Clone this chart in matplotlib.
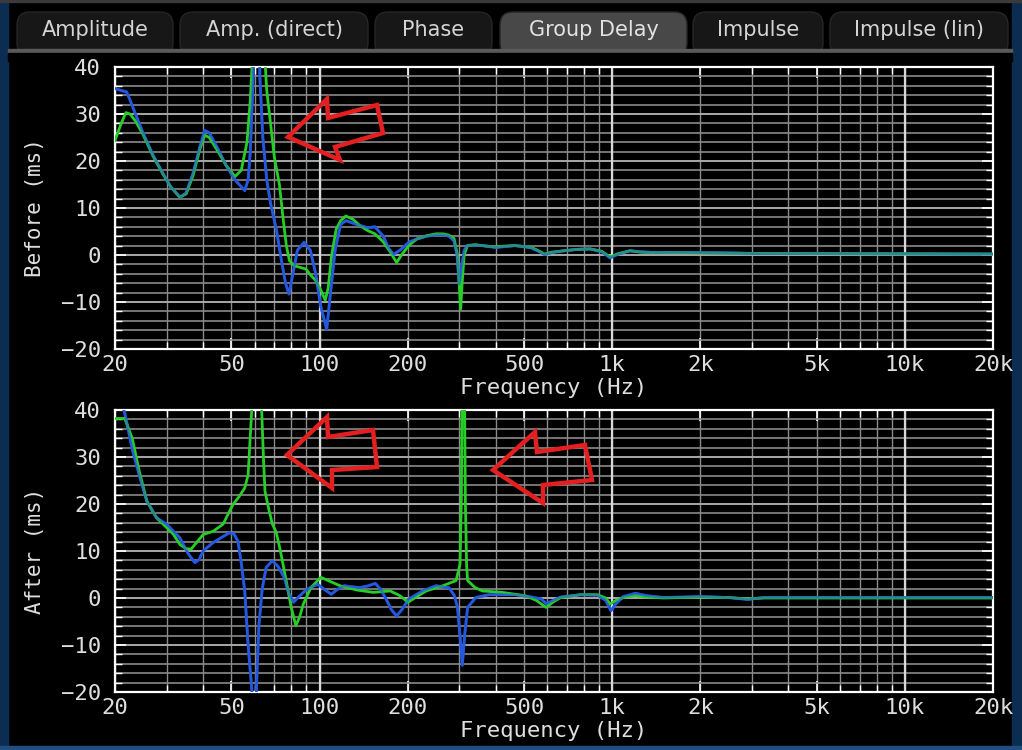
import numpy as np
import matplotlib
matplotlib.use('Agg')
import matplotlib.pyplot as plt
from matplotlib.patches import FancyBboxPatch, Polygon, Rectangle
from matplotlib.ticker import FixedLocator, LogLocator, MultipleLocator, NullFormatter

MONO = 'DejaVu Sans Mono'

# ---- data (frequency in Hz, group delay in ms) ----
before_green_f = [20, 21, 21.8, 22.5, 23.5, 25, 27, 29, 31, 33.3, 35, 37, 39, 40.5, 42, 45, 48,
                  51.4, 54, 56.5, 58, 59.3, 61, 64, 65, 66, 68, 70, 72.9, 75, 77, 78.9, 82, 85.4,
                  89.9, 93, 97.2, 101, 104.6, 107, 110, 114, 118, 123, 130, 137, 146, 154.6, 165,
                  175, 183.4, 192, 203, 215, 232, 250, 265, 277, 288, 296, 300, 303.6, 307, 312,
                  320, 340, 360, 400, 430, 465, 500, 530, 560, 587, 620, 684, 760, 840, 920, 983,
                  1050, 1150, 1250, 1400, 1700, 2000, 3000, 5000, 10000, 20000]
before_green_gd = [24.4, 28, 30.3, 30, 28.5, 25.5, 21, 17.5, 14.5, 12.3, 13, 17, 22.5, 25.5, 25,
                   22, 19, 16.7, 18, 24, 33, 45, 200, 200, 42, 35, 28, 21, 15, 8, 2, -1.2, -2.3,
                   -2.6, -3, -4.2, -5.5, -7.5, -9.6, -7, 0, 5.5, 7.3, 8.3, 7.6, 6.3, 5.2, 4.5, 2.8,
                   0.5, -1.6, 0.3, 2.2, 3.4, 4.1, 4.5, 4.5, 4.2, 3.5, 0, -6, -11.5, -6, 0, 2.0,
                   2.2, 2.0, 1.7, 1.9, 2.0, 1.8, 1.6, 0.9, 0.2, 0.6, 0.9, 1.2, 1.3, 0.8, -0.4,
                   0.3, 0.9, 0.6, 0.5, 0.5, 0.45, 0.35, 0.3, 0.25, 0.2]

before_blue_f = [20, 21, 21.9, 22.5, 23.5, 25, 27, 29, 31, 33.3, 35, 37, 39, 40.5, 42, 45, 48,
                 51.4, 55.5, 57, 58, 59.3, 60, 62, 62.5, 64, 66, 68, 71.3, 74, 76.5, 78.6, 80.5,
                 84, 88.5, 93, 97, 101, 105.8, 109, 113, 118, 123, 130, 137, 146, 154.6, 165,
                 172, 178.9, 188, 203, 215, 232, 250, 265, 277, 288, 295, 300, 305, 312, 320,
                 340, 360, 400, 430, 465, 500, 530, 560, 587, 620, 684, 760, 840, 920, 983, 1050,
                 1150, 1250, 1400, 1700, 2000, 2700, 3000, 5000, 10000, 20000]
before_blue_gd = [35.4, 35, 34.7, 33, 30, 25.8, 21.2, 17.6, 14.5, 12.3, 13.2, 17.5, 23, 26.5, 26,
                  22.5, 19, 16, 13.7, 16, 22, 38, 80, 80, 38, 25, 16, 11, 5.2, -1, -6, -8.3, -5,
                  1, 2.7, 1, -4, -11, -15.8, -8, 1, 6.5, 7.3, 6.8, 6.3, 5.8, 6.0, 4.0, 1.5, 0.1,
                  1, 2.8, 3.4, 4.0, 4.3, 4.3, 4.0, 3.0, 0, -6.2, -3, 1, 2.0, 2.1, 2.0, 1.6, 1.8,
                  2.0, 1.8, 1.5, 0.8, 0.1, 0.5, 0.9, 1.2, 1.3, 0.7, -0.6, 0.2, 0.9, 0.7, 0.5,
                  0.55, 0.5, 0.4, 0.3, 0.3, 0.25, 0.2]

after_green_f = [20, 21.6, 22.9, 24.2, 25.7, 27.7, 30, 31.7, 33.3, 35, 36.4, 38, 40, 43.3, 46.8,
                 50.6, 53, 55.5, 57, 58.6, 59.5, 63, 63.4, 64.3, 65.1, 67, 69, 71.1, 73.5, 76.9,
                 80, 83, 85.5, 88, 93.4, 101, 108, 117.5, 134, 152.6, 174.4, 188, 200.6, 215,
                 231.5, 263.7, 292.6, 302, 305, 307, 312.6, 315, 318, 320.5, 340, 360, 420, 503,
                 550, 595, 630, 667, 780, 889, 950, 983, 1030, 1092, 1200, 1310, 1500, 2000,
                 2500, 2900, 3300, 5000, 10000, 20000]
after_green_gd = [38.2, 38.2, 34, 27, 20.6, 17.1, 15.0, 13.5, 11.4, 10.5, 10.4, 11.8, 13.5, 14.2,
                  15.7, 19.9, 21.5, 23.4, 26.2, 39.6, 200, 200, 40, 30, 22.7, 19, 15.7, 14, 10,
                  3.7, -2, -5.9, -4, -1.3, 2.2, 4.4, 3.6, 2.6, 1.7, 1.2, 1.5, 0.5, -0.9, 0.3, 1.5,
                  2.6, 3.7, 7.2, 20, 45, 45, 20, 7, 3.7, 2.2, 1.5, 1.2, 0.5, -0.5, -2.0, -0.8,
                  0.1, 0.7, 0.7, 0, -1.3, -0.5, 0.1, 0.5, 0.2, 0.0, 0.2, 0.1, -0.2, 0.0, 0.0,
                  0.0, 0.0]

after_blue_f = [20, 21.3, 21.6, 23, 24.5, 25.7, 27.7, 30, 33.3, 35.5, 37.5, 38.8, 40, 43.3, 46,
                49.3, 51, 52.6, 54, 55.5, 57, 58.6, 59.2, 60.6, 61.2, 62.1, 63.7, 65.7, 68.9, 72,
                75.7, 78.5, 81.5, 85, 89.2, 94, 98.6, 104, 109.7, 115, 121.3, 137, 147, 155, 161,
                167.7, 176, 183.4, 191, 202, 225, 250, 276.6, 289, 296, 302, 307.5, 313, 320.5,
                342, 379, 465, 520, 572, 595, 630, 667, 780, 889, 950, 990, 1030, 1092, 1200,
                1310, 1500, 2000, 2500, 2900, 3300, 5000, 10000, 20000]
after_blue_gd = [45, 40.5, 39.3, 31.2, 25, 20.6, 17.1, 15.7, 12.8, 9.5, 7.5, 8.2, 10, 11.8, 12.8,
                 13.9, 13.6, 12.1, 7.5, 1.5, -10, -19, -23, -23, -15, -5.5, 2, 6.5, 7.9, 6.8,
                 4.4, 1, -0.9, 0.3, 1.5, 2.4, 2.9, 1.8, 0.8, 1.8, 2.6, 2.2, 2.6, 3.1, 2, 0.1,
                 -2.5, -3.8, -2.5, -0.2, 1.5, 2.6, 2.2, 0.5, -2.0, -8, -14.3, -8, -2.0, 0.1, 0.7,
                 0.7, 0.3, -0.2, -1.2, -0.5, 0.2, 0.7, 0.6, -0.5, -2.7, -1.2, 0.3, 1.0, 0.5, 0.1,
                 0.3, 0.1, -0.3, 0.1, 0.1, 0.1, 0.1]

freq_ticks = [20, 50, 100, 200, 500, 1000, 2000, 5000, 10000, 20000]
freq_labels = ['20', '50', '100', '200', '500', '1k', '2k', '5k', '10k', '20k']
tab_names = ['Amplitude', 'Amp. (direct)', 'Phase', 'Group Delay', 'Impulse', 'Impulse (lin)']
selected_tab = 'Group Delay'

GREEN = '#26cf26'
BLUE = '#2458e0'

fig = plt.figure(figsize=(10.22, 7.5), dpi=100, facecolor='black')

# window chrome drawn in pixel coordinates
bg = fig.add_axes([0, 0, 1, 1], zorder=-5)
bg.set_xlim(0, 1022)
bg.set_ylim(750, 0)
bg.axis('off')
bg.add_patch(Rectangle((0, 0), 8, 750, color='#0b2d52'))
bg.add_patch(Rectangle((1012, 0), 10, 750, color='#0b2d52'))
bg.add_patch(Rectangle((0, 746), 1022, 4, color='#1f4f80'))
bg.add_patch(Rectangle((0, 0), 1022, 2, color='#3a3a3a'))

tab_x = [(17, 173), (180, 368), (375, 492), (500, 687), (693, 823), (830, 1008)]
for name, (x0, x1) in zip(tab_names, tab_x):
    sel = name == selected_tab
    bg.add_patch(FancyBboxPatch((x0, 12), x1 - x0, 44,
                                boxstyle='round,pad=0,rounding_size=13',
                                fc='#484848' if sel else '#171717',
                                ec='#262626', lw=1))
    bg.text((x0 + x1) / 2, 30.5, name, ha='center', va='center', fontsize=15,
            family='DejaVu Sans', color='#e2e2e2' if sel else '#d4d4d4')
bg.add_patch(Rectangle((8, 49), 1004, 4, color='#5a5a5a'))
bg.add_patch(Rectangle((8, 53), 1004, 8, color='black'))


def draw_panel(rect, gf, gg, bf, bgd, ylabel):
    ax = fig.add_axes(rect)
    ax.set_facecolor('black')
    ax.set_xscale('log')
    ax.set_xlim(20, 20000)
    ax.set_ylim(-20, 40)

    ax.xaxis.set_major_locator(FixedLocator(freq_ticks))
    ax.xaxis.set_major_formatter(plt.FixedFormatter(freq_labels))
    ax.xaxis.set_minor_locator(LogLocator(base=10, subs=np.arange(1, 10), numticks=20))
    ax.xaxis.set_minor_formatter(NullFormatter())
    ax.yaxis.set_major_locator(MultipleLocator(10))
    ax.yaxis.set_minor_locator(MultipleLocator(2))

    ax.grid(which='both', axis='x', color='#8a8a8a', lw=1.0)
    ax.grid(which='minor', axis='y', color='#8a8a8a', lw=1.2)
    ax.grid(which='major', axis='y', color='#a8a8a8', lw=1.4)
    for dec in (100, 1000, 10000):
        ax.axvline(dec, color='#d8d8d8', lw=1.6, zorder=1)
    ax.set_axisbelow(True)

    ax.tick_params(which='both', direction='in', top=True, right=True, color='white',
                   labelcolor='#dedede', labelsize=16)
    ax.tick_params(which='major', length=8, width=1.2)
    ax.tick_params(which='minor', length=5, width=1.0)
    ax.tick_params(axis='x', pad=4)
    ax.tick_params(axis='y', pad=10)
    for lab in ax.get_xticklabels() + ax.get_yticklabels():
        lab.set_family(MONO)
    for sp in ax.spines.values():
        sp.set_color('white')
        sp.set_linewidth(1.6)

    ax.plot(bf, bgd, color=BLUE, lw=2.0, zorder=3)
    ax.plot(gf, gg, color=GREEN, lw=2.0, zorder=4)
    ax.plot(bf, bgd, color=BLUE, lw=2.0, alpha=0.55, zorder=5)

    ax.text(0.5, -0.138, 'Frequency (Hz)', transform=ax.transAxes, ha='center',
            va='center', fontsize=16, family=MONO, color='#dedede')
    ax.text(-0.091, 0.5, ylabel, transform=ax.transAxes, ha='center', va='center',
            rotation=90, fontsize=15, family=MONO, color='#dedede')
    return ax


draw_panel([115 / 1022, 1 - 349 / 750, 878 / 1022, 282 / 750],
           before_green_f, before_green_gd, before_blue_f, before_blue_gd, 'Before (ms)')
draw_panel([115 / 1022, 1 - 692 / 750, 878 / 1022, 282 / 750],
           after_green_f, after_green_gd, after_blue_f, after_blue_gd, 'After (ms)')

# red annotation arrows, on top of everything
over = fig.add_axes([0, 0, 1, 1], zorder=20)
over.set_xlim(0, 1022)
over.set_ylim(750, 0)
over.axis('off')
arrows = [
    [(288, 137), (327, 99), (328, 118), (377, 105), (383, 133), (335, 147), (340, 160)],
    [(287, 455), (327, 417), (328, 437), (373, 430), (377, 467), (332, 470), (332, 488)],
    [(493, 470), (535, 432), (537, 452), (585, 445), (592, 480), (543, 485), (543, 503)],
]
for pts in arrows:
    over.add_patch(Polygon(pts, closed=True, fill=False, ec='#e3201f', lw=3.2,
                           joinstyle='miter'))

fig.savefig('out.png', dpi=100, facecolor='black')
